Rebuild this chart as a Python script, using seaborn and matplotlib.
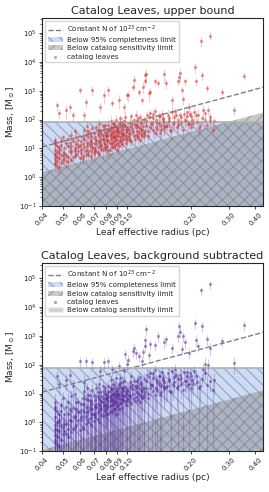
import numpy as np
import pandas as pd
import matplotlib
matplotlib.use("Agg")
import matplotlib.pyplot as plt
import matplotlib.patches as mpatches
import seaborn as sns

# leaf radii (pc), shared by both panels
radius = [
    0.046, 0.046, 0.046, 0.046, 0.047, 0.047, 0.047, 0.048, 0.048, 0.048, 0.049, 0.049, 0.050, 0.050, 0.047, 0.046,
    0.051, 0.051, 0.052, 0.052, 0.052, 0.053, 0.053, 0.054, 0.054, 0.055, 0.055, 0.056, 0.056, 0.057, 0.057, 0.058, 0.058, 0.059, 0.059, 0.060,
    0.061, 0.061, 0.062, 0.062, 0.063, 0.063, 0.063, 0.064, 0.064, 0.065, 0.065, 0.066, 0.066, 0.067, 0.067, 0.068, 0.068, 0.069, 0.069, 0.070,
    0.071, 0.071, 0.072, 0.072, 0.073, 0.073, 0.074, 0.074, 0.075, 0.075, 0.075, 0.076, 0.076, 0.077, 0.077, 0.078, 0.078, 0.079, 0.079, 0.080,
    0.081, 0.081, 0.082, 0.082, 0.082, 0.083, 0.083, 0.084, 0.084, 0.085, 0.085, 0.085, 0.086, 0.086, 0.087, 0.087, 0.088, 0.088, 0.089, 0.089, 0.090, 0.090,
    0.091, 0.091, 0.092, 0.092, 0.093, 0.093, 0.094, 0.094, 0.095, 0.095, 0.096, 0.096, 0.097, 0.097, 0.098, 0.099, 0.100, 0.100,
    0.101, 0.102, 0.103, 0.104, 0.105, 0.106, 0.107, 0.108, 0.108, 0.109, 0.110, 0.111, 0.112, 0.113, 0.114, 0.114, 0.115, 0.116, 0.117, 0.118, 0.118, 0.119, 0.120, 0.120,
    0.121, 0.122, 0.123, 0.123, 0.124, 0.126, 0.127, 0.128, 0.129, 0.130, 0.132, 0.133, 0.135, 0.136, 0.137, 0.138, 0.140, 0.141, 0.143, 0.145, 0.146, 0.148, 0.149, 0.150,
    0.152, 0.154, 0.156, 0.158, 0.160, 0.162, 0.163, 0.165, 0.167, 0.169, 0.171, 0.173, 0.174, 0.175, 0.177, 0.178, 0.180, 0.182, 0.183, 0.185, 0.187, 0.189,
    0.191, 0.194, 0.196, 0.198, 0.200, 0.203, 0.206, 0.209, 0.210, 0.213, 0.216, 0.220, 0.223, 0.224, 0.228, 0.233, 0.237, 0.240, 0.246, 0.246,
    0.255, 0.280, 0.318, 0.355,
    # dense part of the cloud
    0.046, 0.046, 0.046, 0.047, 0.047, 0.048, 0.048, 0.049, 0.049, 0.050, 0.046, 0.048,
    0.051, 0.052, 0.053, 0.053, 0.054, 0.055, 0.055, 0.056, 0.057, 0.057, 0.058, 0.059, 0.060, 0.060,
    0.061, 0.062, 0.062, 0.063, 0.064, 0.064, 0.065, 0.066, 0.066, 0.067, 0.068, 0.068, 0.069, 0.069, 0.070, 0.070,
    0.071, 0.071, 0.072, 0.073, 0.073, 0.074, 0.074, 0.075, 0.076, 0.076, 0.077, 0.077, 0.078, 0.078, 0.079, 0.079, 0.080, 0.080,
    0.081, 0.081, 0.082, 0.082, 0.083, 0.083, 0.084, 0.084, 0.085, 0.085, 0.086, 0.086, 0.087, 0.087, 0.088, 0.088, 0.089, 0.089, 0.090, 0.090,
    0.091, 0.091, 0.092, 0.092, 0.093, 0.093, 0.094, 0.095, 0.095, 0.096, 0.096, 0.097, 0.098, 0.098, 0.099, 0.099, 0.100, 0.100,
    0.101, 0.102, 0.103, 0.104, 0.105, 0.106, 0.107, 0.108, 0.109, 0.110, 0.111, 0.112, 0.113, 0.114, 0.115, 0.116, 0.117, 0.118, 0.119, 0.120,
    0.121, 0.123, 0.125, 0.127, 0.129, 0.131, 0.133, 0.135, 0.137, 0.139, 0.141, 0.143, 0.145, 0.147, 0.149, 0.150,
    0.153, 0.157, 0.161, 0.166, 0.170, 0.174, 0.179, 0.184, 0.188, 0.192, 0.196, 0.200,
    0.205, 0.212, 0.218, 0.226, 0.232, 0.238, 0.245, 0.252,
]

# upper-bound masses (Msun)
mass_upper = [
    3.2, 5.5, 9.0, 14, 2.4, 7.5, 320, 4.5, 11, 170, 6.0, 18, 4.0, 25, 12, 20,
    4.5, 10, 215, 6, 16, 3.5, 22, 275, 8, 12, 30, 5, 145, 9, 40, 14, 6.5, 20, 11, 1070,
    7, 18, 5.5, 28, 145, 11, 45, 410, 9, 16, 60, 6.5, 24, 13, 35, 8, 19, 1070, 50, 10,
    9, 25, 14, 55, 7.5, 32, 18, 70, 275, 12, 42, 21, 9.5, 30, 60, 700, 15, 38, 11, 26,
    12, 35, 1070, 20, 65, 9, 45, 28, 90, 380, 16, 50, 24, 75, 11, 38, 60, 19, 100, 30, 14, 48,
    40, 15, 480, 70, 25, 110, 55, 18, 35, 85, 22, 60, 275, 30, 120, 45, 700, 20,
    700, 35, 80, 20, 130, 50, 1350, 2370, 28, 65, 150, 40, 90, 24, 910, 55, 120, 32, 75, 480, 45, 1400, 100, 28,
    2100, 3540, 3800, 60, 140, 40, 830, 170, 940, 75, 45, 110, 200, 2100, 55, 85, 1870, 130, 35, 65, 160, 95, 3800, 50,
    1870, 60, 150, 90, 45, 180, 480, 70, 120, 200, 55, 100, 2100, 3100, 140, 4200, 75, 1070, 520, 160, 2100, 90,
    130, 70, 280, 160, 55, 100, 180, 6700, 2100, 80, 150, 60, 55000, 3500, 215, 100, 1250, 215, 81000, 125,
    90, 940, 215, 3250,
    2.8, 4.2, 6.5, 3.6, 5.2, 2.2, 8.5, 3.0, 13, 5.8, 17, 7,
    7, 3.8, 12, 5, 15, 4, 7.5, 18, 5.5, 10, 25, 8, 13, 4.5,
    9, 14, 4.5, 22, 6, 30, 12, 8, 40, 17, 5.5, 26, 11, 15, 7, 35,
    16, 8, 20, 11, 45, 6.5, 28, 17, 35, 13, 22, 8.5, 48, 19, 14, 65, 10, 30,
    18, 26, 9, 42, 30, 15, 55, 21, 11, 33, 17, 40, 70, 24, 13, 28, 20, 45, 36, 9,
    28, 55, 12, 35, 19, 80, 42, 14, 26, 48, 32, 90, 22, 60, 16, 38, 50, 27,
    45, 25, 60, 32, 18, 70, 40, 95, 22, 55, 30, 65, 110, 38, 20, 85, 48, 27, 60, 35,
    40, 90, 28, 120, 55, 70, 160, 35, 100, 48, 75, 130, 42, 110, 60, 85,
    60, 110, 40, 85, 150, 65, 120, 45, 95, 180, 70, 130,
    75, 140, 50, 110, 170, 65, 95, 45,
]
relerr_upper = [
    0.3, 0.4, 0.3, 0.5, 0.4, 0.3, 0.4, 0.5, 0.3, 0.4, 0.3, 0.5, 0.4, 0.3, 0.4, 0.3,
    0.4, 0.3, 0.5, 0.3, 0.4, 0.5, 0.3, 0.4, 0.3, 0.5, 0.4, 0.3, 0.4, 0.5, 0.3, 0.4, 0.3, 0.5, 0.4, 0.3,
    0.3, 0.5, 0.4, 0.3, 0.4, 0.5, 0.3, 0.4, 0.3, 0.4, 0.5, 0.3, 0.4, 0.3, 0.5, 0.4, 0.3, 0.4, 0.3, 0.5,
    0.4, 0.3, 0.5, 0.4, 0.3, 0.4, 0.3, 0.5, 0.4, 0.3, 0.4, 0.5, 0.3, 0.4, 0.3, 0.5, 0.4, 0.3, 0.4, 0.3,
    0.5, 0.3, 0.4, 0.3, 0.5, 0.4, 0.3, 0.4, 0.5, 0.3, 0.4, 0.3, 0.5, 0.4, 0.3, 0.4, 0.3, 0.5, 0.4, 0.3, 0.4, 0.5,
    0.3, 0.4, 0.5, 0.3, 0.4, 0.3, 0.5, 0.4, 0.3, 0.4, 0.5, 0.3, 0.4, 0.3, 0.5, 0.4, 0.3, 0.4,
    0.4, 0.3, 0.5, 0.4, 0.3, 0.4, 0.3, 0.5, 0.4, 0.3, 0.4, 0.5, 0.3, 0.4, 0.3, 0.5, 0.4, 0.3, 0.4, 0.3, 0.5, 0.4, 0.3, 0.4,
    0.3, 0.4, 0.5, 0.3, 0.4, 0.3, 0.5, 0.4, 0.3, 0.4, 0.5, 0.3, 0.4, 0.3, 0.5, 0.4, 0.3, 0.4, 0.5, 0.3, 0.4, 0.3, 0.5, 0.4,
    0.4, 0.3, 0.5, 0.4, 0.3, 0.4, 0.5, 0.3, 0.4, 0.3, 0.5, 0.4, 0.3, 0.4, 0.3, 0.5, 0.4, 0.3, 0.4, 0.5, 0.3, 0.4,
    0.3, 0.4, 0.5, 0.3, 0.4, 0.3, 0.5, 0.4, 0.3, 0.4, 0.5, 0.3, 0.4, 0.3, 0.5, 0.4, 0.3, 0.4, 0.3, 0.5,
    0.4, 0.3, 0.4, 0.3,
    0.4, 0.3, 0.5, 0.3, 0.4, 0.5, 0.3, 0.4, 0.3, 0.5, 0.4, 0.3,
    0.3, 0.5, 0.4, 0.3, 0.4, 0.3, 0.5, 0.4, 0.3, 0.4, 0.5, 0.3, 0.4, 0.3,
    0.5, 0.3, 0.4, 0.3, 0.5, 0.4, 0.3, 0.4, 0.3, 0.5, 0.4, 0.3, 0.4, 0.5, 0.3, 0.4,
    0.3, 0.4, 0.3, 0.5, 0.4, 0.3, 0.4, 0.5, 0.3, 0.4, 0.3, 0.5, 0.4, 0.3, 0.4, 0.3, 0.5, 0.4,
    0.4, 0.3, 0.5, 0.4, 0.3, 0.4, 0.3, 0.5, 0.4, 0.3, 0.4, 0.5, 0.3, 0.4, 0.3, 0.5, 0.4, 0.3, 0.4, 0.3,
    0.3, 0.4, 0.5, 0.3, 0.4, 0.3, 0.5, 0.4, 0.3, 0.4, 0.5, 0.3, 0.4, 0.3, 0.5, 0.4, 0.3, 0.4,
    0.5, 0.4, 0.3, 0.4, 0.3, 0.5, 0.4, 0.3, 0.4, 0.5, 0.3, 0.4, 0.3, 0.5, 0.4, 0.3, 0.4, 0.3, 0.5, 0.4,
    0.3, 0.4, 0.5, 0.3, 0.4, 0.3, 0.5, 0.4, 0.3, 0.4, 0.5, 0.3, 0.4, 0.3, 0.5, 0.4,
    0.4, 0.3, 0.5, 0.4, 0.3, 0.4, 0.3, 0.5, 0.4, 0.3, 0.4, 0.5,
    0.3, 0.4, 0.5, 0.3, 0.4, 0.3, 0.5, 0.4,
]

# background-subtracted masses (Msun)
mass_bgsub = [
    0.25, 0.6, 1.5, 3.0, 0.18, 1.0, 40, 0.5, 2.0, 22, 0.8, 4.0, 0.4, 7.0, 2.5, 5.0,
    0.5, 2.0, 30, 0.9, 3.5, 0.3, 5.0, 45, 1.2, 2.5, 8, 0.6, 18, 1.5, 10, 3.0, 0.8, 5, 2.2, 137,
    1.2, 4.5, 0.7, 7, 25, 2.2, 12, 137, 1.6, 3.5, 15, 1.0, 6, 2.8, 9, 1.4, 4.5, 120, 13, 2.0,
    2.0, 6, 3.5, 16, 1.3, 8, 4.5, 22, 60, 3, 11, 5.5, 1.8, 7, 18, 120, 3.8, 10, 2.5, 6.5,
    3.5, 9, 137, 5.5, 18, 2.2, 12, 7, 30, 70, 4, 14, 6, 22, 2.8, 9.5, 16, 5, 35, 8, 3.6, 12,
    10, 4, 90, 20, 6.5, 35, 15, 4.8, 9, 26, 5.8, 17, 60, 8, 240, 12, 110, 5.5,
    150, 9, 25, 5, 40, 14, 300, 390, 7, 18, 260, 11, 28, 6, 200, 16, 38, 8.5, 22, 137, 12, 280, 32, 7.5,
    450, 700, 1750, 16, 45, 10, 220, 50, 520, 20, 12, 35, 65, 480, 15, 25, 1000, 40, 9, 18, 55, 30, 600, 14,
    790, 18, 50, 28, 12, 60, 390, 20, 38, 70, 15, 32, 1000, 2200, 45, 1400, 22, 350, 1000, 55, 600, 27,
    40, 20, 260, 50, 15, 30, 60, 2800, 700, 25, 450, 18, 39000, 2200, 70, 107, 790, 100, 62000, 390,
    30, 680, 117, 2400,
    0.2, 0.35, 0.8, 0.3, 0.55, 0.15, 1.2, 0.25, 2.5, 0.7, 3.5, 1.0,
    0.9, 0.4, 2.0, 0.6, 2.8, 0.45, 1.1, 3.2, 0.7, 1.6, 5, 1.2, 2.4, 0.55,
    1.5, 2.6, 0.6, 4.5, 0.9, 6.5, 2.2, 1.3, 9, 3.5, 0.8, 5.5, 2.0, 3.0, 1.1, 8,
    3.5, 1.5, 4.5, 2.2, 11, 1.0, 6.5, 3.8, 8, 2.8, 5, 1.6, 12, 4, 3, 16, 2, 7,
    4.5, 7, 2, 11, 8, 3.6, 15, 5.5, 2.4, 9, 4.2, 10, 20, 6, 3, 7.5, 5, 12, 9.5, 2,
    7, 15, 2.8, 9, 4.8, 24, 11, 3.2, 6.5, 13, 8, 28, 5.5, 17, 4, 10, 14, 7,
    12, 6.5, 17, 8, 4.5, 20, 10, 28, 5.5, 15, 7.5, 18, 33, 10, 5, 25, 13, 7, 16, 9,
    11, 28, 7, 38, 15, 20, 50, 9, 30, 13, 22, 40, 11, 34, 17, 25,
    17, 33, 11, 26, 45, 19, 36, 13, 28, 55, 21, 40,
    22, 42, 15, 33, 50, 20, 28, 13,
]
relerr_bgsub = [
    1.5, 0.8, 2.0, 0.6, 3.0, 1.2, 0.5, 2.0, 0.8, 0.6, 1.5, 0.7, 2.5, 0.6, 1.2, 0.9,
    2.0, 0.9, 0.6, 1.5, 0.7, 3.0, 1.1, 0.5, 1.8, 0.8, 0.6, 2.2, 0.7, 1.4, 0.6, 1.0, 2.0, 0.7, 1.3, 0.4,
    1.6, 0.7, 2.4, 0.6, 0.8, 1.2, 0.6, 0.4, 1.5, 0.9, 0.6, 2.0, 0.7, 1.3, 0.6, 1.7, 0.8, 0.4, 0.6, 1.4,
    1.3, 0.7, 1.0, 0.6, 2.0, 0.8, 1.1, 0.5, 0.5, 1.4, 0.7, 1.0, 1.8, 0.7, 0.6, 0.4, 1.2, 0.8, 1.5, 0.9,
    1.1, 0.7, 0.4, 1.0, 0.6, 1.6, 0.7, 0.9, 0.5, 0.4, 1.2, 0.6, 1.0, 0.6, 1.5, 0.8, 0.6, 1.1, 0.5, 0.8, 1.3, 0.7,
    0.7, 1.3, 0.4, 0.6, 1.0, 0.5, 0.7, 1.2, 0.8, 0.6, 1.0, 0.6, 0.4, 0.9, 0.4, 0.7, 0.4, 1.1,
    0.4, 0.9, 0.6, 1.2, 0.5, 0.7, 0.4, 0.4, 1.0, 0.6, 0.4, 0.8, 0.6, 1.2, 0.4, 0.7, 0.5, 0.9, 0.6, 0.4, 0.8, 0.4, 0.6, 1.0,
    0.4, 0.4, 0.4, 0.7, 0.5, 0.9, 0.4, 0.6, 0.4, 0.6, 0.9, 0.6, 0.5, 0.4, 0.8, 0.6, 0.4, 0.6, 1.0, 0.7, 0.5, 0.6, 0.4, 0.8,
    0.4, 0.7, 0.5, 0.6, 0.9, 0.5, 0.4, 0.7, 0.6, 0.5, 0.8, 0.6, 0.4, 0.4, 0.6, 0.4, 0.7, 0.4, 0.4, 0.5, 0.4, 0.6,
    0.6, 0.7, 0.4, 0.5, 0.8, 0.6, 0.5, 0.4, 0.4, 0.7, 0.4, 0.8, 0.3, 0.4, 0.5, 0.6, 0.4, 0.6, 0.3, 0.5,
    0.7, 0.4, 0.6, 0.4,
    2.0, 1.5, 1.2, 2.5, 1.4, 3.0, 0.9, 2.2, 1.1, 1.6, 0.8, 1.1,
    1.2, 2.4, 1.1, 1.8, 0.9, 2.2, 1.1, 1.2, 1.6, 1.3, 0.7, 1.2, 1.1, 2.0,
    1.1, 1.2, 2.0, 0.8, 1.5, 0.7, 1.1, 1.3, 0.6, 1.2, 1.6, 0.7, 1.2, 1.1, 1.4, 0.6,
    1.2, 1.3, 1.1, 1.2, 0.6, 1.6, 0.8, 1.1, 0.7, 1.2, 0.9, 1.3, 0.6, 1.1, 1.2, 0.5, 1.2, 0.9,
    1.1, 0.9, 1.2, 0.7, 1.1, 1.2, 0.6, 1.1, 1.3, 0.8, 1.1, 0.7, 0.5, 1.1, 1.2, 0.8, 1.1, 0.6, 0.8, 1.2,
    1.1, 0.7, 1.2, 0.8, 1.1, 0.5, 0.7, 1.2, 1.1, 0.6, 0.9, 0.5, 1.1, 0.6, 1.2, 0.8, 0.6, 1.1,
    0.7, 1.1, 0.6, 1.1, 1.2, 0.5, 1.1, 0.5, 1.2, 0.7, 1.1, 0.6, 0.5, 1.1, 1.2, 0.5, 0.7, 1.1, 0.6, 1.1,
    0.8, 0.5, 1.1, 0.5, 0.7, 1.1, 0.4, 1.1, 0.5, 1.1, 0.6, 0.5, 1.1, 0.5, 0.7, 0.6,
    0.7, 0.5, 1.1, 0.6, 0.5, 1.1, 0.5, 1.1, 0.6, 0.4, 1.1, 0.5,
    0.6, 0.5, 1.1, 0.5, 0.4, 1.1, 0.6, 1.1,
]

# reference curves (end points of M ~ R^2 lines)
line_radius = [0.04, 0.44]
n23_mass = [11.2, 1355]
sens_upper_mass = [1.5, 181]
sens_bgsub_mass = [0.11, 13.3]
completeness_mass = 80
floor_mass = 1e-3

xticks = [0.04, 0.05, 0.06, 0.07, 0.08, 0.09, 0.10, 0.20, 0.30, 0.40]

sns.set_style("ticks")
plt.rcParams['font.family'] = ['DejaVu Sans']

fig, axes = plt.subplots(2, 1, figsize=(2.69, 4.92), dpi=100)
plt.subplots_adjust(left=0.156, right=0.978, top=0.963, bottom=0.083, hspace=0.305)

panels = [
    (axes[0], mass_upper, relerr_upper, sens_upper_mass, "#cc3333", "Catalog Leaves, upper bound", False),
    (axes[1], mass_bgsub, relerr_bgsub, sens_bgsub_mass, "#5a2a9a", "Catalog Leaves, background subtracted", True),
]

for ax, mass, relerr, sens, color, title, extra in panels:
    df = pd.DataFrame({"radius": radius, "mass": mass})
    df["err"] = df["mass"] * np.array(relerr)

    sns.lineplot(x=line_radius, y=n23_mass, ax=ax, color="gray", linestyle="--", lw=1,
                 label="Constant N of 10$^{23}$ cm$^{-2}$")
    ax.fill_between(line_radius, floor_mass, completeness_mass, facecolor="#b9cdf0", alpha=0.7,
                    hatch="\\\\\\", edgecolor="#8a9ab5", lw=0, label="Below 95% completeness limit")
    ax.axhline(completeness_mass, color="#b0b0b0", lw=1.2)
    ax.fill_between(line_radius, floor_mass, sens, facecolor="gray", alpha=0.42,
                    hatch="///", edgecolor="#707070", lw=0, label="Below catalog sensitivity limit")
    ax.errorbar(df["radius"], df["mass"], yerr=df["err"], fmt="none", ecolor=color, alpha=0.25, lw=0.8)
    sns.scatterplot(data=df, x="radius", y="mass", ax=ax, color=color, alpha=0.5, s=5,
                    linewidth=0, label="catalog leaves")

    ax.set_xscale("log")
    ax.set_yscale("log")
    ax.set_xlim(0.04, 0.435)
    ax.set_ylim(0.1, 3.3e5)
    ax.set_xticks(xticks)
    ax.set_xticklabels(["%.2f" % t for t in xticks], rotation=45)
    ax.xaxis.set_minor_locator(matplotlib.ticker.NullLocator())
    ax.tick_params(axis="both", labelsize=5, length=2.5, width=0.6, pad=1.5)
    ax.tick_params(axis="y", which="minor", length=1.5, width=0.5)
    ax.set_xlabel("Leaf effective radius (pc)", fontsize=6.5, labelpad=1)
    ax.set_ylabel("Mass, [M$_\\odot$]", fontsize=6.5, labelpad=1)
    ax.set_title(title, fontsize=8, pad=3)
    for s in ax.spines.values():
        s.set_linewidth(0.8)

    handles, labels = ax.get_legend_handles_labels()
    if extra:
        handles.append(mpatches.Patch(facecolor="gray", alpha=0.35))
        labels.append("Below catalog sensitivity limit")
    ax.legend(handles, labels, loc="upper left", fontsize=5.1, frameon=True, borderpad=0.4,
              labelspacing=0.3, handlelength=2.2, handletextpad=0.6, borderaxespad=0.4,
              fancybox=False, edgecolor="#cccccc")

fig.savefig("out.png", dpi=100)
